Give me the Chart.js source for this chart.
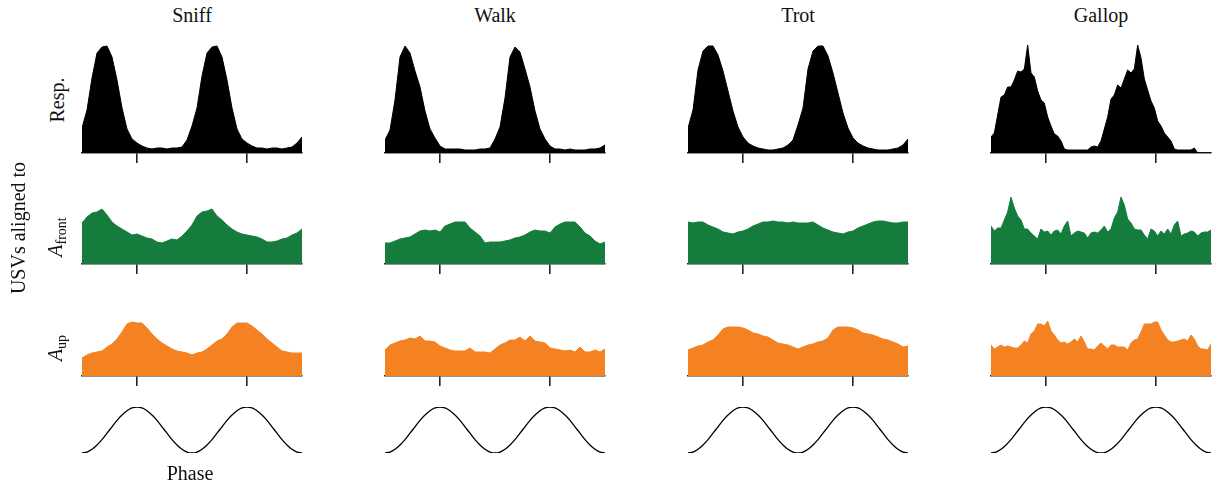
<!DOCTYPE html>
<html>
<head>
<meta charset="utf-8">
<script src="https://cdn.jsdelivr.net/npm/chart.js@4.4.1/dist/chart.umd.min.js"></script>
<style>
  body{margin:0;background:#fff;}
  #fig{position:relative;width:1221px;height:487px;overflow:hidden;font-family:"Liberation Serif","DejaVu Serif",serif;color:#111;}
  #fig canvas{position:absolute;}
  .lbl{position:absolute;white-space:nowrap;font-size:20px;line-height:1;transform:translate(-50%,-50%);}
  .rot{transform:translate(-50%,-50%) rotate(-90deg);}
  .sub{font-size:14px;font-style:normal;position:relative;top:4px;}
</style>
</head>
<body>
<div id="fig"></div>
<script>
// ---------- data: heights, x runs over two phase cycles ----------
const COLUMNS=['Sniff','Walk','Trot','Gallop'];
const PHASE_TICKS=[0.25,0.75];

const RESP_SNIFF=[25,43,75,100,106,107,96,73,45,24,14,10,7,5,4,5,5,4,5,5,6,13,27,45,77,100,106,107,96,73,45,24,14,10,7,5,5,4,5,5,4,5,6,10,16];
const RESP_WALK=[13,23,53,96,107,100,82,66,42,24,15,7,4,4,4,4,3,3,3,4,4,5,14,26,55,96,106,101,84,66,42,24,14,7,4,4,3,4,3,3,3,4,4,5,8];
const RESP_TROT=[25,43,83,102,107,107,98,82,62,42,26,16,10,7,5,4,3,3,4,5,8,13,28,45,84,102,107,107,97,80,60,40,25,15,10,7,5,4,3,3,3,4,5,8,14];
const RESP_GALLOP=[16,20,38,56,58,66,66,73,82,81,84,108,80,76,62,53,50,36,27,19,17,12,4,3,3,3,3,3,3,3,6,7,6,12,24,36,54,58,68,65,74,83,80,84,108,95,74,63,52,45,32,27,20,16,12,4,3,3,3,3,3,5,0,0,0,0,0];

const FRONT_SNIFF=[41,47,51,52,55,49,42,38,35,32,29,30,28,26,25,22,21,23,25,24,28,33,39,48,52,53,55,48,44,39,35,32,30,29,28,27,25,22,22,23,25,26,29,31,35];
const FRONT_WALK=[21,21,23,25,26,27,30,33,34,33,34,32,38,40,42,42,42,36,32,28,21,22,22,22,23,24,26,27,29,32,34,33,33,31,37,40,42,42,42,37,31,28,23,20,22];
const FRONT_TROT=[42,41,42,42,39,37,35,32,31,30,32,33,35,38,40,42,42,43,42,42,41,42,41,41,41,42,39,36,34,32,31,30,32,33,36,38,40,42,43,43,42,41,41,42,42];
const FRONT_GALLOP=[38,33,36,36,44,52,67,56,48,44,35,35,31,28,25,35,32,33,29,33,34,30,38,43,28,31,33,32,31,26,31,32,31,34,38,32,35,46,52,67,59,45,41,35,34,34,29,25,35,33,28,33,30,35,30,39,43,28,30,31,33,32,28,31,32,32,34];

const UP_SNIFF=[18,21,23,24,25,29,32,37,44,52,54,53,53,48,42,37,33,30,27,25,24,23,21,23,24,27,31,35,37,42,49,53,53,53,50,46,42,37,33,29,25,24,23,23,23];
const UP_WALK=[26,31,33,35,36,38,37,40,35,35,34,30,28,26,25,25,25,28,24,24,24,23,27,31,33,36,36,39,35,40,35,34,33,28,27,26,25,26,24,29,24,24,26,24,27];
const UP_TROT=[26,28,30,31,34,36,41,47,49,49,49,48,46,43,42,40,39,36,33,32,31,29,27,29,31,32,34,35,38,46,49,49,49,48,46,43,42,41,39,37,36,34,32,29,30];
const UP_GALLOP=[31,27,29,31,29,30,29,28,28,31,35,33,42,45,52,52,50,55,45,41,36,33,34,32,34,37,34,40,34,27,27,26,30,33,30,27,31,31,29,29,29,26,33,36,37,44,52,52,52,54,54,46,41,36,34,34,35,36,37,35,41,37,30,27,27,26,32];

const PHASE=[-1,-0.96,-0.84,-0.65,-0.42,-0.14,0.14,0.42,0.65,0.84,0.96,1,0.96,0.84,0.65,0.42,0.14,-0.14,-0.42,-0.65,-0.84,-0.96,-1,-0.96,-0.84,-0.65,-0.42,-0.14,0.14,0.42,0.65,0.84,0.96,1,0.96,0.84,0.65,0.42,0.14,-0.14,-0.42,-0.65,-0.84,-0.96,-1];

const ROWS=[
  {values:[RESP_SNIFF,RESP_WALK,RESP_TROT,RESP_GALLOP],color:'#000000'},
  {values:[FRONT_SNIFF,FRONT_WALK,FRONT_TROT,FRONT_GALLOP],color:'#167c3e'},
  {values:[UP_SNIFF,UP_WALK,UP_TROT,UP_GALLOP],color:'#f48222'}
];

// ---------- layout ----------
const COL_LEFT=[82,385,688,991], PLOT_W=220, PAD=2;
const ROW_BOTTOM=[153,264,376], ROW_H=110, TICK_LEN=10;
const PHASE_TOP=407, PHASE_H=46;
const AXIS_COLOR='#222';

const fig=document.getElementById('fig');
const xy=vals=>vals.map((v,i)=>({x:i/(vals.length-1),y:v}));

function addCanvas(left,top,w,h){
  const c=document.createElement('canvas');
  c.width=w; c.height=h;
  c.style.left=left+'px'; c.style.top=top+'px';
  c.style.width=w+'px'; c.style.height=h+'px';
  fig.appendChild(c);
  return c;
}

function addLabel(html,cx,cy,rotate){
  const d=document.createElement('div');
  d.className='lbl'+(rotate?' rot':'');
  d.innerHTML=html;
  d.style.left=cx+'px'; d.style.top=cy+'px';
  fig.appendChild(d);
}

// filled area panel with bottom axis + two phase ticks
function makeArea(canvas,vals,color){
  return new Chart(canvas.getContext('2d'),{
    type:'line',
    data:{datasets:[{data:xy(vals),fill:'origin',backgroundColor:color,borderColor:color,borderWidth:1,pointRadius:0,tension:0}]},
    options:{
      animation:false,responsive:false,events:[],
      layout:{padding:{left:PAD,right:PAD,top:PAD,bottom:0}},
      scales:{
        x:{type:'linear',min:0,max:1,
           afterBuildTicks:s=>{s.ticks=PHASE_TICKS.map(v=>({value:v}));},
           ticks:{display:false},
           grid:{drawOnChartArea:false,drawTicks:true,tickLength:TICK_LEN,color:AXIS_COLOR,lineWidth:1.6},
           border:{display:true,color:AXIS_COLOR,width:1.6}},
        y:{display:false,min:0,max:ROW_H}
      },
      plugins:{legend:{display:false},tooltip:{enabled:false}}
    }
  });
}

// reference phase curve
function makePhase(canvas){
  return new Chart(canvas.getContext('2d'),{
    type:'line',
    data:{datasets:[{data:xy(PHASE),fill:false,borderColor:'#000',borderWidth:1.3,pointRadius:0,cubicInterpolationMode:'monotone'}]},
    options:{
      animation:false,responsive:false,events:[],
      layout:{padding:PAD},
      scales:{x:{type:'linear',min:0,max:1,display:false},y:{display:false,min:-1,max:1}},
      plugins:{legend:{display:false},tooltip:{enabled:false}}
    }
  });
}

COLUMNS.forEach((name,c)=>{
  const left=COL_LEFT[c];
  ROWS.forEach((row,r)=>{
    const top=ROW_BOTTOM[r]-ROW_H-PAD;
    const cv=addCanvas(left-PAD,top,PLOT_W+2*PAD,PAD+ROW_H+TICK_LEN);
    makeArea(cv,row.values[c],row.color);
  });
  makePhase(addCanvas(left-PAD,PHASE_TOP-PAD,PLOT_W+2*PAD,PHASE_H+2*PAD));
  addLabel(name,left+PLOT_W/2,15,false);
});

// row labels
addLabel('Resp.',57,100,true);
addLabel('<i>A</i><span class="sub">front</span>',55,237,true);
addLabel('<i>A</i><span class="sub">up</span>',55,348,true);
addLabel('USVs aligned to',18,228,true);
addLabel('Phase',190,473,false);
</script>
</body>
</html>
